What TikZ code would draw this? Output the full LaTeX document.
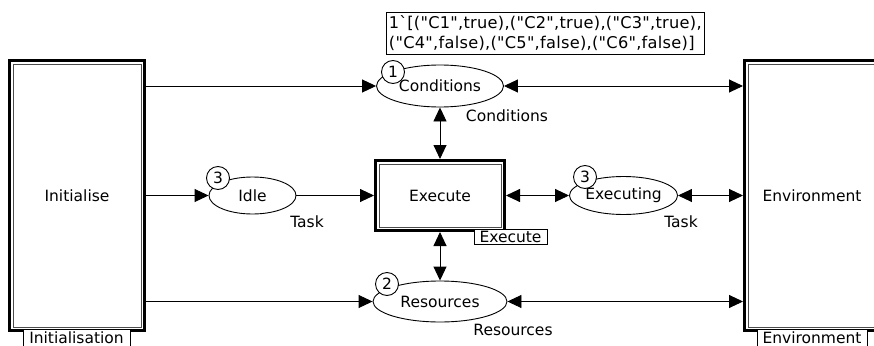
\documentclass[tikz,border=0pt]{standalone}
\usepackage{fontspec}
\setmainfont{DejaVu Sans}[Ligatures=TeXOff]
\newfontfamily\markingfont{DejaVu Sans}[Ligatures=TeXOff, LetterSpace=1.7]
\usetikzlibrary{arrows.meta,shapes.geometric}

\begin{document}
\begin{tikzpicture}[x=1pt,y=-1pt,
  font=\fontsize{15.5}{20}\selectfont,
  place/.style={ellipse, draw, line width=0.9pt, inner sep=0pt, fill=white},
  token/.style={circle, draw, line width=0.9pt, fill=white, minimum size=23pt, inner sep=0pt},
  subst/.style={rectangle, draw, line width=3pt, inner sep=0pt},
  inner frame/.style={draw=black!70, line width=0.9pt},
  tag/.style={rectangle, draw, line width=0.9pt, inner sep=0pt, fill=white},
  tip/.tip={Triangle[length=14pt,width=13pt]},
  arc/.style={line width=0.9pt, -tip},
  biarc/.style={line width=0.9pt, tip-tip},
  inscr/.style={inner sep=0pt}]
\useasboundingbox (0,0) rectangle (874,345);
\clip (0,0) rectangle (874,345);

% substitution transitions
\node[subst, minimum width=135pt, minimum height=270pt] (init) at (77,195.5) {Initialise};
\node[subst, minimum width=129pt, minimum height=70pt] (exec) at (440,195.5) {Execute};
\node[subst, minimum width=135pt, minimum height=270pt] (env) at (812,195.5) {Environment};
\foreach \n in {init,exec,env}
  \draw[inner frame] ([xshift=5pt,yshift=-5pt]\n.north west) rectangle ([xshift=-5pt,yshift=5pt]\n.south east);

% places
\node[place, minimum width=127pt, minimum height=42pt] (cond) at (440,86) {Conditions};
\node[place, minimum width=87pt, minimum height=37pt] (idle) at (252.5,195.5) {Idle};
\node[place, minimum width=101pt, minimum height=38pt] (execg) at (623.5,195.5) {Executing};
\node[place, minimum width=134pt, minimum height=41pt] (res) at (440,301.5) {Resources};

% initial marking of Conditions
\node[draw, line width=0.9pt, anchor=west, align=left, inner xsep=2.5pt, inner ysep=2pt, minimum height=42pt,
      font=\markingfont\fontsize{16.2}{20}\selectfont] (mark) at (386,33)
  {1\textasciigrave[("C1",true),("C2",true),("C3",true),\\("C4",false),("C5",false),("C6",false)]};

% arcs
\draw[arc] (init.east |- cond) -- (cond.west);
\draw[biarc] (cond.east) -- (cond.east -| env.west);
\draw[arc] (init.east) -- (idle.west);
\draw[arc] (idle.east) -- (exec.west);
\draw[biarc] (exec.east) -- (execg.west);
\draw[biarc] (execg.east) -- (execg.east -| env.west);
\draw[biarc] (cond.south) -- (exec.north);
\draw[biarc] (exec.south) -- (res.north);
\draw[arc] (init.east |- res) -- (res.west);
\draw[biarc] (res.east) -- (res.east -| env.west);

% token counts, above the places
\node[token] (t1) at (393,72) {1};
\node[token] (t2) at (218,178) {3};
\node[token] (t3) at (585,177) {3};
\node[token] (t4) at (387,284) {2};

% colour set inscriptions
\node[inscr] (lcond) at (507,116) {Conditions};
\node[inscr] (ltask1) at (307,222) {Task};
\node[inscr] (ltask2) at (681,222) {Task};
\node[inscr] (lres) at (513,330) {Resources};

% substitution tags
\node[tag, minimum width=73pt, minimum height=15pt] (texec) at (510.5,236.5) {Execute};
\node[tag, minimum width=107pt, minimum height=18pt] (tinit) at (76.5,338) {Initialisation};
\node[tag, minimum width=110pt, minimum height=18pt] (tenv) at (812,338) {Environment};
\end{tikzpicture}
\end{document}
